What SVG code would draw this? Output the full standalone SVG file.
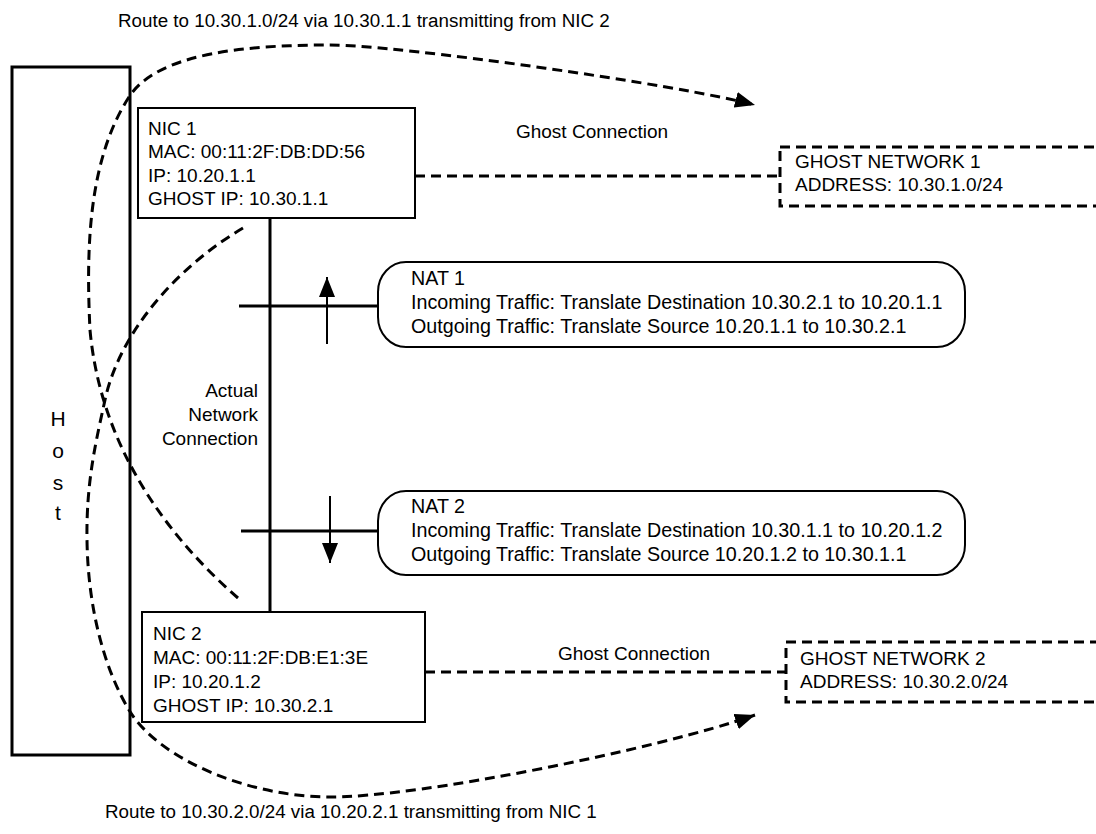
<svg xmlns="http://www.w3.org/2000/svg" width="1096" height="834" viewBox="0 0 1096 834">
  <defs>
    <marker id="head" viewBox="0 0 20 16" refX="20" refY="8" markerWidth="20" markerHeight="16" markerUnits="userSpaceOnUse" orient="auto">
      <path d="M0,0 L20,8 L0,16 Z" fill="#000"/>
    </marker>
    <style>
      text { font-family: "Liberation Sans", Arial, sans-serif; font-size: 19px; fill: #000; }
      .nat-text { font-size: 19.7px; }
      .box { fill: #fff; stroke: #000; stroke-width: 2; }
      .host { fill: #fff; stroke: #000; stroke-width: 3; }
      .ghost { fill: #fff; stroke: #000; stroke-width: 3; stroke-dasharray: 10 6; }
      .nat { fill: #fff; stroke: #000; stroke-width: 2; }
      .wire { fill: none; stroke: #000; stroke-width: 3; }
      .dash { fill: none; stroke: #000; stroke-width: 3; stroke-dasharray: 10 6; }
      .flow { fill: none; stroke: #000; stroke-width: 2; }
      .mid { text-anchor: middle; }
      .end { text-anchor: end; }
    </style>
  </defs>

  <rect width="1096" height="834" fill="#fff"/>

  <!-- route captions -->
  <text x="118" y="27" style="font-size:18.8px">Route to 10.30.1.0/24 via 10.30.1.1 transmitting from NIC 2</text>
  <text x="105" y="818" style="font-size:18.8px">Route to 10.30.2.0/24 via 10.20.2.1 transmitting from NIC 1</text>

  <!-- host -->
  <g id="host">
    <rect class="host" x="12" y="67" width="118" height="688"/>
    <text class="mid" x="58" y="426" style="font-size:21px">H</text>
    <text class="mid" x="58" y="458" style="font-size:21px">o</text>
    <text class="mid" x="58" y="490" style="font-size:21px">s</text>
    <text class="mid" x="58" y="520" style="font-size:21px">t</text>
  </g>

  <!-- connectors -->
  <g id="connectors">
    <!-- physical link between the two NICs -->
    <line class="wire" x1="270" y1="218" x2="270" y2="612"/>
    <line class="wire" x1="239" y1="306" x2="378" y2="306"/>
    <line class="wire" x1="241" y1="531" x2="378" y2="531"/>
    <line class="flow" x1="327" y1="344" x2="327" y2="277" marker-end="url(#head)"/>
    <line class="flow" x1="330" y1="496" x2="330" y2="563" marker-end="url(#head)"/>
    <!-- ghost links -->
    <line class="dash" x1="415" y1="176" x2="780" y2="176"/>
    <line class="dash" x1="425" y1="672" x2="786" y2="672"/>
    <!-- routes -->
    <path class="dash" d="M238,598 C160,530 100,440 90,330 C86,250 88,160 129,97 C158,52 250,45 330,45 C400,45 680,85 755,105" marker-end="url(#head)"/>
    <path class="dash" d="M243,228 C180,265 120,330 105,400 C97,437 86,480 87,540 C88,610 105,670 129,710 C159,760 250,797 330,797 C420,797 655,750 755,715" marker-end="url(#head)"/>
  </g>

  <g id="link-labels">
    <text class="mid" x="592" y="138">Ghost Connection</text>
    <text class="mid" x="634" y="660">Ghost Connection</text>
    <text class="end" x="258" y="397">Actual</text>
    <text class="end" x="258" y="421">Network</text>
    <text class="end" x="258" y="445">Connection</text>
  </g>

  <g id="nic1">
    <rect class="box" x="138" y="108" width="277" height="110"/>
    <text x="148" y="135">NIC 1</text>
    <text x="148" y="158">MAC: 00:11:2F:DB:DD:56</text>
    <text x="148" y="182">IP: 10.20.1.1</text>
    <text x="148" y="205">GHOST IP: 10.30.1.1</text>
  </g>

  <g id="nic2">
    <rect class="box" x="142" y="612" width="283" height="110"/>
    <text x="153" y="640">NIC 2</text>
    <text x="153" y="664">MAC: 00:11:2F:DB:E1:3E</text>
    <text x="153" y="688">IP: 10.20.1.2</text>
    <text x="153" y="712">GHOST IP: 10.30.2.1</text>
  </g>

  <g id="nat1">
    <rect class="nat" x="378" y="262" width="587" height="85" rx="28" ry="30"/>
    <text class="nat-text" x="411" y="285">NAT 1</text>
    <text class="nat-text" x="411" y="309">Incoming Traffic: Translate Destination 10.30.2.1 to 10.20.1.1</text>
    <text class="nat-text" x="411" y="333">Outgoing Traffic: Translate Source 10.20.1.1 to 10.30.2.1</text>
  </g>

  <g id="nat2">
    <rect class="nat" x="378" y="491" width="587" height="84" rx="28" ry="30"/>
    <text class="nat-text" x="411" y="513">NAT 2</text>
    <text class="nat-text" x="411" y="537">Incoming Traffic: Translate Destination 10.30.1.1 to 10.20.1.2</text>
    <text class="nat-text" x="411" y="561">Outgoing Traffic: Translate Source 10.20.1.2 to 10.30.1.1</text>
  </g>

  <g id="ghost1">
    <rect class="ghost" x="780" y="147" width="340" height="59"/>
    <text x="795" y="168">GHOST NETWORK 1</text>
    <text x="795" y="191">ADDRESS: 10.30.1.0/24</text>
  </g>

  <g id="ghost2">
    <rect class="ghost" x="786" y="642" width="340" height="60"/>
    <text x="800" y="665">GHOST NETWORK 2</text>
    <text x="800" y="688">ADDRESS: 10.30.2.0/24</text>
  </g>
</svg>
